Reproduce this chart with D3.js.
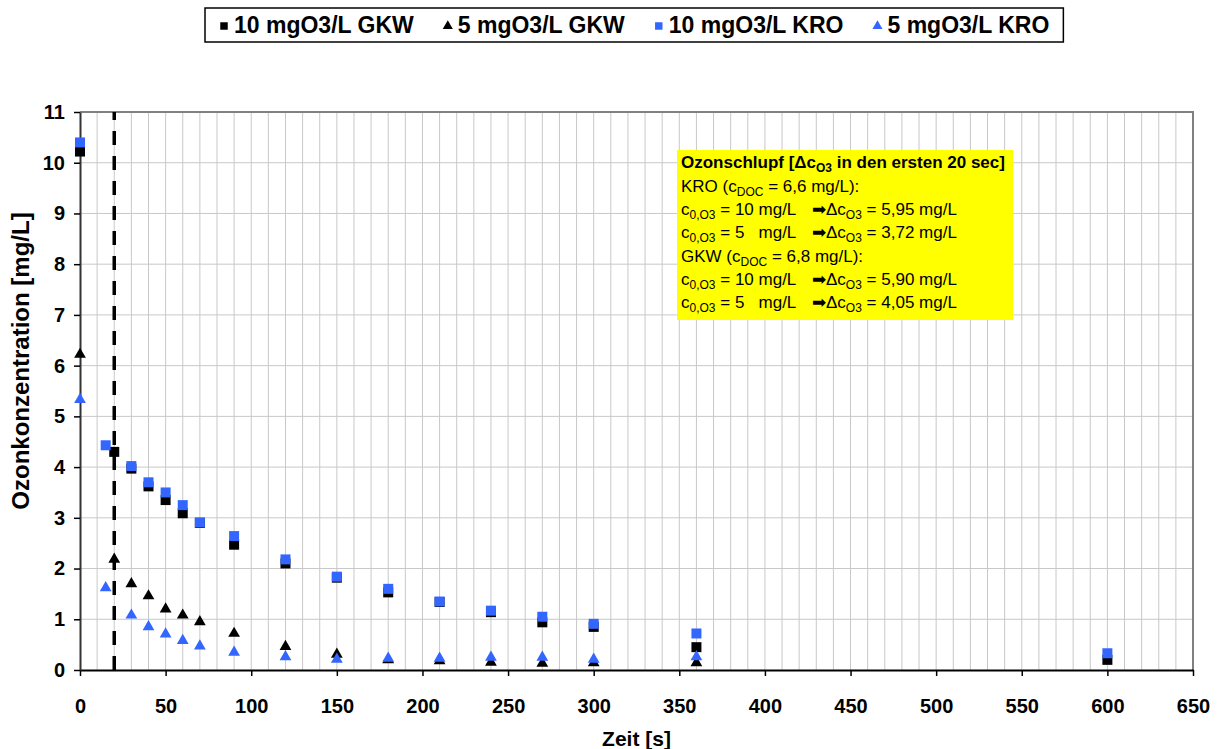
<!DOCTYPE html>
<html>
<head>
<meta charset="utf-8">
<script src="https://cdn.jsdelivr.net/npm/d3@7"></script>
<style>
  body { margin: 0; background: #fff; }
  svg { display: block; font-family: "Liberation Sans", Arial, sans-serif; }
  text { white-space: pre; }
</style>
</head>
<body>
<svg id="chart" width="1219" height="749"></svg>
<script>
// Ozone decay measurements: time [s] vs ozone concentration [mg/L]
const timeGKW10 = [0, 20, 30, 40, 50, 60, 70, 90, 120, 150, 180, 210, 240, 270, 300, 360, 600];
const ozoneGKW10 = [10.22, 4.30, 3.97, 3.62, 3.35, 3.09, 2.90, 2.47, 2.10, 1.82, 1.53, 1.34, 1.14, 0.94, 0.85, 0.45, 0.20];

const timeGKW5 = [0, 20, 30, 40, 50, 60, 70, 90, 120, 150, 180, 210, 240, 270, 300, 360];
const ozoneGKW5 = [6.22, 2.18, 1.70, 1.46, 1.20, 1.08, 0.95, 0.72, 0.46, 0.31, 0.20, 0.18, 0.15, 0.13, 0.14, 0.14];

const timeKRO10 = [0, 15, 30, 40, 50, 60, 70, 90, 120, 150, 180, 210, 240, 270, 300, 360, 600];
const ozoneKRO10 = [10.40, 4.43, 4.02, 3.70, 3.50, 3.25, 2.91, 2.64, 2.18, 1.84, 1.60, 1.35, 1.17, 1.05, 0.91, 0.72, 0.33];

const timeKRO5 = [0, 15, 30, 40, 50, 60, 70, 90, 120, 150, 180, 210, 240, 270, 300, 360];
const ozoneKRO5 = [5.33, 1.62, 1.08, 0.85, 0.71, 0.58, 0.47, 0.35, 0.26, 0.21, 0.23, 0.23, 0.25, 0.25, 0.21, 0.26];

const seriesNames = ["10 mgO3/L GKW", "5 mgO3/L GKW", "10 mgO3/L KRO", "5 mgO3/L KRO"];
const xTicks = d3.range(0, 651, 50);
const yTicks = d3.range(0, 12, 1);
const markerTime = 20;   // end of the first 20 s

const series = [
  { name: seriesNames[0], t: timeGKW10, v: ozoneGKW10, shape: "square", color: "#000000" },
  { name: seriesNames[1], t: timeGKW5, v: ozoneGKW5, shape: "triangle", color: "#000000" },
  { name: seriesNames[2], t: timeKRO10, v: ozoneKRO10, shape: "square", color: "#3366ff" },
  { name: seriesNames[3], t: timeKRO5, v: ozoneKRO5, shape: "triangle", color: "#3366ff" }
];

const svg = d3.select("#chart");
const plot = { left: 80, right: 1193, top: 112, bottom: 670 };

const x = d3.scaleLinear().domain([0, 650]).range([plot.left, plot.right]);
const y = d3.scaleLinear().domain([0, 11]).range([plot.bottom, plot.top]);

// grid
const grid = svg.append("g");
grid.selectAll("line.v").data(d3.range(10, 650, 10)).join("line")
  .attr("x1", d => x(d)).attr("x2", d => x(d))
  .attr("y1", plot.top).attr("y2", plot.bottom)
  .attr("stroke", "#c8c8c8").attr("stroke-width", 1);
grid.selectAll("line.h").data(d3.range(1, 11, 1)).join("line")
  .attr("x1", plot.left).attr("x2", plot.right)
  .attr("y1", d => y(d)).attr("y2", d => y(d))
  .attr("stroke", "#c8c8c8").attr("stroke-width", 1);

// top/right frame
svg.append("path")
  .attr("d", `M${plot.left},${plot.top}H${plot.right}V${plot.bottom}`)
  .attr("fill", "none").attr("stroke", "#808080").attr("stroke-width", 2);

// axes
const xAxis = d3.axisBottom(x).tickValues(xTicks).tickSize(6).tickSizeOuter(0);
const gx = svg.append("g").attr("transform", `translate(0,${plot.bottom})`).call(xAxis);
gx.select(".domain").attr("stroke", "#000").attr("stroke-width", 2);
gx.selectAll(".tick line").attr("stroke", "#000").attr("stroke-width", 1.5);
gx.selectAll(".tick text").attr("font-size", 20).attr("font-weight", "bold")
  .attr("fill", "#000").attr("y", 43).attr("dy", 0)
  .attr("font-family", "Liberation Sans, Arial, sans-serif");

const yAxis = d3.axisLeft(y).tickValues(yTicks).tickSize(6).tickSizeOuter(0);
const gy = svg.append("g").attr("transform", `translate(${plot.left},0)`).call(yAxis);
gy.select(".domain").attr("stroke", "#333").attr("stroke-width", 2);
gy.selectAll(".tick line").attr("stroke", "#000").attr("stroke-width", 1.5);
gy.selectAll(".tick text").attr("font-size", 20).attr("font-weight", "bold")
  .attr("fill", "#000").attr("x", -15).attr("font-family", "Liberation Sans, Arial, sans-serif");

// axis titles
svg.append("text").attr("x", x(325)).attr("y", 746).attr("text-anchor", "middle")
  .attr("font-size", 21).attr("font-weight", "bold").text("Zeit [s]");
svg.append("text").attr("transform", "translate(29,361) rotate(-90)")
  .attr("text-anchor", "middle").attr("font-size", 24).attr("font-weight", "bold")
  .text("Ozonkonzentration [mg/L]");

// dashed marker line at 20 s
svg.append("line")
  .attr("x1", x(markerTime)).attr("x2", x(markerTime))
  .attr("y1", y(0)).attr("y2", y(11))
  .attr("stroke", "#000").attr("stroke-width", 3.5).attr("stroke-dasharray", "14,11");

// symbols
const symSquare = d3.symbol().type(d3.symbolSquare).size(100);
const symTriangle = d3.symbol().type(d3.symbolTriangle).size(60);

series.forEach(s => {
  const pts = s.t.map((t, i) => ({ t, v: s.v[i] }));
  svg.append("g").selectAll("path").data(pts).join("path")
    .attr("transform", d => `translate(${x(d.t)},${y(d.v)})`)
    .attr("d", s.shape === "square" ? symSquare : symTriangle)
    .attr("fill", s.color);
});

// annotation box
const note = svg.append("g");
note.append("rect").attr("x", 677).attr("y", 150).attr("width", 336).attr("height", 170)
  .attr("fill", "#ffff00");

const lineY = [168, 192, 215, 238, 262, 285, 308];
function addLine(yy, parts, bold) {
  const t = note.append("text").attr("x", 681).attr("y", yy)
    .attr("font-size", 17).attr("font-weight", bold ? "bold" : "normal").attr("fill", "#000");
  parts.forEach(p => {
    const ts = t.append("tspan").text(p.s);
    if (p.x !== undefined) ts.attr("x", p.x);
    if (p.sub) ts.attr("font-size", 12).attr("dy", 4);
    else if (p.after) ts.attr("dy", -4);
  });
}
addLine(lineY[0], [{ s: "Ozonschlupf [Δc" }, { s: "O3", sub: true }, { s: " in den ersten 20 sec]", after: true }], true);
addLine(lineY[1], [{ s: "KRO (c" }, { s: "DOC", sub: true }, { s: " = 6,6 mg/L):", after: true }]);
addLine(lineY[2], [{ s: "c" }, { s: "0,O3", sub: true }, { s: " = 10 mg/L", after: true }, { s: "➡Δc", x: 812 }, { s: "O3", sub: true }, { s: " = 5,95 mg/L", after: true }]);
addLine(lineY[3], [{ s: "c" }, { s: "0,O3", sub: true }, { s: " = 5   mg/L", after: true }, { s: "➡Δc", x: 812 }, { s: "O3", sub: true }, { s: " = 3,72 mg/L", after: true }]);
addLine(lineY[4], [{ s: "GKW (c" }, { s: "DOC", sub: true }, { s: " = 6,8 mg/L):", after: true }]);
addLine(lineY[5], [{ s: "c" }, { s: "0,O3", sub: true }, { s: " = 10 mg/L", after: true }, { s: "➡Δc", x: 812 }, { s: "O3", sub: true }, { s: " = 5,90 mg/L", after: true }]);
addLine(lineY[6], [{ s: "c" }, { s: "0,O3", sub: true }, { s: " = 5   mg/L", after: true }, { s: "➡Δc", x: 812 }, { s: "O3", sub: true }, { s: " = 4,05 mg/L", after: true }]);

// legend
const legend = svg.append("g");
const legBox = legend.append("rect").attr("y", 8).attr("height", 34)
  .attr("fill", "#fff").attr("stroke", "#000").attr("stroke-width", 1.5);
const legLeft = 205;
const itemGap = 30;
let lx = legLeft + 15;
series.forEach(s => {
  const legSym = s.shape === "square"
    ? d3.symbol().type(d3.symbolSquare).size(56)
    : d3.symbol().type(d3.symbolTriangle).size(44);
  legend.append("path").attr("transform", `translate(${lx + 4},${26})`)
    .attr("d", legSym).attr("fill", s.color);
  const txt = legend.append("text").attr("x", lx + 14).attr("y", 33)
    .attr("font-size", 23).attr("font-weight", "bold").text(s.name);
  lx += 14 + txt.node().getComputedTextLength() + itemGap;
});
legBox.attr("x", legLeft).attr("width", lx - itemGap + 14 - legLeft);
</script>
</body>
</html>
